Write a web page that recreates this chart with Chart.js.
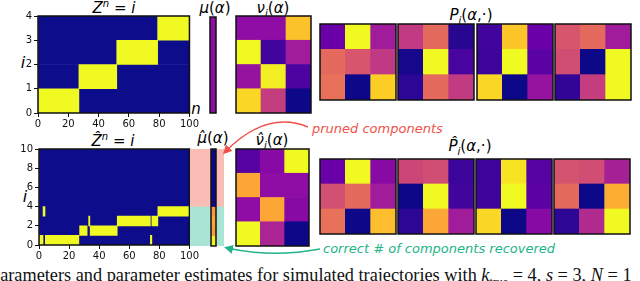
<!DOCTYPE html>
<html>
<head>
<meta charset="utf-8">
<script src="https://cdn.jsdelivr.net/npm/chart.js@4.4.1/dist/chart.umd.min.js"></script>
<style>
  html, body { margin: 0; padding: 0; background: #fff; }
  #fig { position: relative; width: 640px; height: 281px; overflow: hidden; font-family: "DejaVu Sans", sans-serif; }
  #fig canvas { position: absolute; }
  .lbl { position: absolute; transform: translate(-50%, -50%); white-space: nowrap; font-size: 15px; color: #000; line-height: 1; }
  .it { font-style: italic; }
  .sup { font-size: 10px; position: relative; top: -6px; font-style: italic; }
  .sub { font-size: 10px; position: relative; top: 4px; font-style: italic; }
  .note { position: absolute; white-space: nowrap; font-size: 13px; font-style: italic; line-height: 1; transform: translateY(-50%); }
  #caption { position: absolute; left: -9px; top: 266px; line-height: 18px; font-family: "Liberation Serif", "DejaVu Serif", serif; font-size: 18.3px; white-space: nowrap; color: #111; }
  svg { position: absolute; left: 0; top: 0; }
</style>
</head>
<body>
<div id="fig">
  <div class="lbl" style="left:114px;top:8px"><span class="it">Z</span><span class="sup">n</span> = <span class="it">i</span></div>
  <div class="lbl" style="left:215px;top:8px"><span class="it">μ</span>(<span class="it">α</span>)</div>
  <div class="lbl" style="left:273px;top:8px"><span class="it">ν</span><span class="sub">i</span>(<span class="it">α</span>)</div>
  <div class="lbl" style="left:471px;top:15px"><span class="it">P</span><span class="sub">i</span>(<span class="it">α</span>,·)</div>
  <div class="lbl" style="left:113px;top:141px"><span class="it">Ẑ</span><span class="sup">n</span> = <span class="it">i</span></div>
  <div class="lbl" style="left:213px;top:138px"><span class="it">μ̂</span>(<span class="it">α</span>)</div>
  <div class="lbl" style="left:272px;top:140px"><span class="it">ν̂</span><span class="sub">i</span>(<span class="it">α</span>)</div>
  <div class="lbl" style="left:470px;top:146px"><span class="it">P̂</span><span class="sub">i</span>(<span class="it">α</span>,·)</div>
  <div class="lbl it" style="left:23px;top:63px;font-size:16px">i</div>
  <div class="lbl it" style="left:25px;top:197px;font-size:16px">i</div>
  <div class="lbl it" style="left:196px;top:109px">n</div>
  <div class="lbl it" style="left:197px;top:240px">n</div>
  <div class="note" style="left:312px;top:128px;color:#f0524a">pruned components</div>
  <div class="note" style="left:323px;top:248px;color:#22b38a">correct # of components recovered</div>
  <div id="caption">parameters and parameter estimates for simulated trajectories with <i>k</i><sub style="font-size:12px">true</sub> = 4, <i>s</i> = 3, <i>N</i> = 1</div>
  <svg width="640" height="281">
    <defs>
      <marker id="redHead" markerWidth="9" markerHeight="9" refX="6" refY="4.5" orient="auto" markerUnits="userSpaceOnUse">
        <path d="M0,0 L9,4.5 L0,9 Z" fill="#f0524a"></path>
      </marker>
      <marker id="greenHead" markerWidth="9" markerHeight="9" refX="6" refY="4.5" orient="auto" markerUnits="userSpaceOnUse">
        <path d="M0,0 L9,4.5 L0,9 Z" fill="#22b38a"></path>
      </marker>
    </defs>
    <path d="M308 127 Q 266 110 225 152" fill="none" stroke="#f0524a" stroke-width="1.5" marker-end="url(#redHead)"></path>
    <path d="M320 249 Q 272 258 227 248" fill="none" stroke="#22b38a" stroke-width="1.5" marker-end="url(#greenHead)"></path>
  </svg>
</div>
<script>
// hidden state sequences: one yellow segment per entry (state, start n, end n)
const zTrueState = [0, 1, 2, 3];
const zTrueStart = [0, 27, 52, 79];
const zTrueEnd = [27, 52, 79, 100];

const zHatState = [0, 3, 0, 1, 2, 1, 2, 0, 2, 3];
const zHatStart = [0.4, 2.7, 4.2, 27, 33, 34, 52, 74, 75, 79];
const zHatEnd = [2.7, 4, 26.5, 32, 33.8, 52, 74, 75, 79, 100];

const nTicks = [0, 20, 40, 60, 80, 100];

// colour values (0..1 on plasma), rows listed top to bottom
const muTrue = [[0.3]];
const muHat = [[0], [0], [0], [0], [0], [0], [0.76], [0.8], [0.77], [0.98]];

const nuTrue = [
  [0.3, 0.3, 0.87],
  [1.0, 0.1, 0.35],
  [0.32, 0.98, 0.13],
  [0.92, 0.47, 0.0],
];
const nuHat = [
  [0.15, 0.28, 1.0],
  [0.8, 0.3, 0.3],
  [0.3, 0.8, 0.28],
  [1.0, 0.38, 0.0],
];

const pTrue = [
  [[0.2, 1.0, 0.35], [0.62, 0.55, 0.45], [0.64, 0.0, 0.9]],
  [[0.46, 0.62, 0.05], [0.02, 1.0, 0.12], [0.06, 0.62, 0.46]],
  [[0.1, 0.88, 0.2], [0.09, 1.0, 0.16], [0.92, 0.0, 0.32]],
  [[0.55, 0.62, 0.35], [0.52, 0.0, 1.0], [0.07, 0.47, 1.0]],
];
const pHat = [
  [[0.2, 1.0, 0.28], [0.53, 0.62, 0.35], [0.64, 0.0, 0.86]],
  [[0.5, 0.52, 0.09], [0.0, 1.0, 0.1], [0.06, 0.8, 0.35]],
  [[0.09, 0.95, 0.15], [0.09, 1.0, 0.16], [0.92, 0.0, 0.28]],
  [[0.54, 0.52, 0.37], [0.62, 0.0, 0.82], [0.06, 0.4, 1.0]],
];

// pruned (states 4..9) vs kept (states 0..3) bands behind mu-hat
const bandSizes = [4, 6];
const bandColors = ['#a9e5d4', '#f9bdb6'];

const plasmaStops = ['#0d0887', '#41049d', '#6a00a8', '#8f0da4', '#b12a90', '#cc4778',
  '#e16462', '#f2844b', '#fca636', '#fcce25', '#f0f921'];

function plasma(v) {
  const t = Math.max(0, Math.min(1, v)) * (plasmaStops.length - 1);
  const i = Math.min(Math.floor(t), plasmaStops.length - 2);
  const f = t - i;
  const a = plasmaStops[i], b = plasmaStops[i + 1];
  const ch = (s, k) => parseInt(s.substr(1 + 2 * k, 2), 16);
  const c = [0, 1, 2].map((k) => Math.round(ch(a, k) + (ch(b, k) - ch(a, k)) * f));
  return `rgb(${c[0]},${c[1]},${c[2]})`;
}

const fig = document.getElementById('fig');
function addCanvas(x, y, w, h) {
  const c = document.createElement('canvas');
  c.width = w;
  c.height = h;
  c.style.left = x + 'px';
  c.style.top = y + 'px';
  c.style.width = w + 'px';
  c.style.height = h + 'px';
  fig.insertBefore(c, fig.querySelector('svg'));
  return c;
}

const framePlugin = {
  id: 'frame',
  afterDraw(chart) {
    const { ctx, chartArea: a } = chart;
    ctx.save();
    ctx.strokeStyle = '#111';
    ctx.lineWidth = 1.5;
    ctx.strokeRect(a.left, a.top, a.right - a.left, a.bottom - a.top);
    ctx.restore();
  },
};

const baseOptions = {
  responsive: false,
  animation: false,
  devicePixelRatio: 1,
  events: [],
  plugins: { legend: { display: false }, tooltip: { enabled: false } },
};

function heatmap(x, y, w, h, rows) {
  const canvas = addCanvas(x - 1, y - 1, w + 2, h + 2);
  const labels = rows[0].map((_, c) => c);
  const datasets = rows.slice().reverse().map((row) => ({
    data: row.map(() => 1),
    backgroundColor: row.map(plasma),
    borderWidth: 0,
  }));
  new Chart(canvas, {
    type: 'bar',
    data: { labels, datasets },
    options: {
      ...baseOptions,
      layout: { padding: 1 },
      datasets: { bar: { barPercentage: 1, categoryPercentage: 1 } },
      scales: {
        x: { display: false, stacked: true },
        y: { display: false, stacked: true, min: 0, max: rows.length },
      },
    },
    plugins: [framePlugin],
  });
}

function stateChart(x, y, w, h, pad, nRows, yStep, yWidth, xHeight, states, starts, ends) {
  const canvas = addCanvas(x, y, w, h);
  const rowIdx = Array.from({ length: nRows }, (_, r) => r);
  const tickFont = { family: 'DejaVu Sans', size: 10 };
  new Chart(canvas, {
    type: 'bar',
    data: {
      datasets: [
        {
          data: states.map((s, k) => ({ y: s + 0.5, x: [starts[k], ends[k]] })),
          backgroundColor: '#f0f921',
        },
        {
          data: rowIdx.map((r) => ({ y: r + 0.5, x: [0, 100] })),
          backgroundColor: '#0d0c8a',
        },
      ],
    },
    options: {
      ...baseOptions,
      indexAxis: 'y',
      layout: { padding: pad },
      datasets: { bar: { barPercentage: 1, categoryPercentage: 1, grouped: false, borderWidth: 0 } },
      scales: {
        x: {
          type: 'linear', min: 0, max: 100, offset: false,
          afterBuildTicks(s) { s.ticks = nTicks.map((v) => ({ value: v })); },
          ticks: { color: '#111', font: tickFont, padding: 1, maxRotation: 0 },
          grid: { drawOnChartArea: false, tickLength: 4, color: '#111', offset: false },
          border: { display: false },
          afterFit(s) { s.height = xHeight; },
        },
        y: {
          type: 'linear', min: 0, max: nRows, offset: false,
          ticks: { stepSize: yStep, color: '#111', font: tickFont, padding: 2 },
          grid: { drawOnChartArea: false, tickLength: 4, color: '#111', offset: false },
          border: { display: false },
          afterFit(s) { s.width = yWidth; },
        },
      },
    },
    plugins: [framePlugin],
  });
}

// top row: true parameters
stateChart(0, 0, 200, 135, { top: 16, right: 10, left: 0, bottom: 0 }, 4, 1, 38, 22,
  zTrueState, zTrueStart, zTrueEnd);
heatmap(210, 17, 6, 96, muTrue);
heatmap(236, 16, 75, 97, nuTrue);
[320, 398, 477, 555].forEach((px, k) => heatmap(px, 24, 76, 76, pTrue[k]));

// bottom row: estimates
stateChart(0, 130, 200, 135, { top: 19, right: 10, left: 0, bottom: 0 }, 10, 2, 39, 20,
  zHatState, zHatStart, zHatEnd);

const bandCanvas = addCanvas(190, 149, 34, 97);
new Chart(bandCanvas, {
  type: 'bar',
  data: {
    labels: ['band'],
    datasets: bandSizes.map((v, k) => ({ data: [v], backgroundColor: bandColors[k], borderWidth: 0 })),
  },
  options: {
    ...baseOptions,
    layout: { padding: 0 },
    datasets: { bar: { barPercentage: 1, categoryPercentage: 1 } },
    scales: {
      x: { display: false, stacked: true },
      y: { display: false, stacked: true, min: 0, max: 10 },
    },
  },
});
heatmap(211, 149, 5, 97, muHat);
heatmap(236, 149, 73, 97, nuHat);
[320, 398, 476, 554].forEach((px, k) => heatmap(px, 159, 76, 75, pHat[k]));
</script>
</body>
</html>
